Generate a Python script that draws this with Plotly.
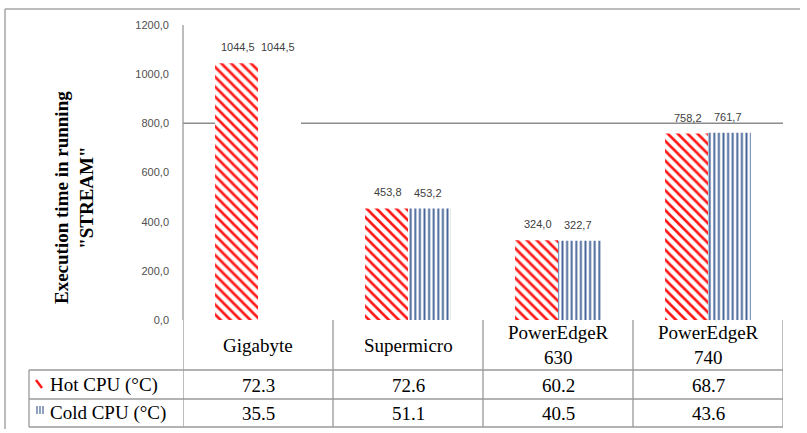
import plotly.graph_objects as go

# ---- data ----
categories = ["Gigabyte", "Supermicro", "PowerEdgeR<br>630", "PowerEdgeR<br>740"]
hot_time = [1044.5, 453.8, 324.0, 758.2]
cold_time = [1044.5, 453.2, 322.7, 761.7]
hot_temp = ["72.3", "72.6", "60.2", "68.7"]
cold_temp = ["35.5", "51.1", "40.5", "43.6"]
row_labels = ["Hot CPU (°C)", "Cold CPU (°C)"]
y_ticks = [0, 200, 400, 600, 800, 1000, 1200]

W, H = 807, 433
L, R, T, B = 183, 24, 25, 113
PW, PH = W - L - R, H - T - B

def px(x):  # pixel x -> paper
    return (x - L) / PW

def py(y):  # pixel y -> paper
    return (H - B - y) / PH

RED = "#ff1a1a"
BLUE = "#46659a"
GRID = "#8c8c8c"
BORDER = "#a6a6a6"
SERIF = "Liberation Serif"
SANS = "Liberation Sans"

xs = list(range(len(categories)))

fig = go.Figure()
fig.add_trace(go.Bar(
    x=xs, y=hot_time, name=row_labels[0],
    marker=dict(color="white", line=dict(width=0),
                pattern=dict(shape="\\", fgcolor=RED, bgcolor="white",
                             size=7, solidity=0.38, fillmode="replace")),
))
fig.add_trace(go.Bar(
    x=xs, y=cold_time, name=row_labels[1],
    marker=dict(color="white", line=dict(width=0),
                pattern=dict(shape=["", "|", "|", "|"], fgcolor=BLUE, bgcolor="white",
                             size=4.6, solidity=0.42, fillmode="replace")),
))

shapes = []
annotations = []

# horizontal line at 800 (behind bars)
shapes.append(dict(type="line", xref="paper", yref="y", x0=0, x1=1, y0=800, y1=800,
                   line=dict(color=GRID, width=1.5), layer="below"))

# value labels
for i in xs:
    for val, sh in ((hot_time[i], -20), (cold_time[i], 20)):
        annotations.append(dict(x=i, y=val, xref="x", yref="y", text=f"{val:.1f}".replace(".", ","),
                                showarrow=False, xshift=sh, yshift=8, yanchor="bottom",
                                font=dict(family=SANS, size=11, color="#404040")))

# outer border (left + top)
shapes.append(dict(type="line", xref="paper", yref="paper", x0=px(5), x1=px(5), y0=py(9), y1=py(429),
                   line=dict(color=BORDER, width=1.5)))
shapes.append(dict(type="line", xref="paper", yref="paper", x0=px(5), x1=px(800), y0=py(9), y1=py(9),
                   line=dict(color=BORDER, width=1.5)))

# table lines
TL = "#9a9a9a"
for yy in (370, 399, 427):
    shapes.append(dict(type="line", xref="paper", yref="paper", x0=px(29), x1=1.0, y0=py(yy), y1=py(yy),
                       line=dict(color=TL, width=1.3)))
shapes.append(dict(type="line", xref="paper", yref="paper", x0=px(29), x1=px(29), y0=py(370), y1=py(427),
                   line=dict(color=TL, width=1.3)))
for xb in [-0.5, 0.5, 1.5, 2.5, 3.5]:
    shapes.append(dict(type="line", xref="x", yref="paper", x0=xb, x1=xb, y0=py(320), y1=py(427),
                       line=dict(color=TL, width=1.3)))

TF = dict(family=SERIF, size=19, color="black")
# category names
for i, c in enumerate(categories):
    annotations.append(dict(x=i, y=py(345), xref="x", yref="paper", text=c, showarrow=False,
                            yanchor="middle", font=TF))
# temperature rows
for i in xs:
    annotations.append(dict(x=i, y=py(385), xref="x", yref="paper", text=hot_temp[i], showarrow=False,
                            yanchor="middle", font=TF))
    annotations.append(dict(x=i, y=py(413), xref="x", yref="paper", text=cold_temp[i], showarrow=False,
                            yanchor="middle", font=TF))
# row labels
annotations.append(dict(x=px(48), y=py(385), xref="paper", yref="paper", text=row_labels[0], showarrow=False,
                        xanchor="left", yanchor="middle", font=TF))
annotations.append(dict(x=px(48), y=py(413), xref="paper", yref="paper", text=row_labels[1], showarrow=False,
                        xanchor="left", yanchor="middle", font=TF))
# legend keys
shapes.append(dict(type="line", xref="paper", yref="paper", x0=px(36), x1=px(42), y0=py(380), y1=py(388),
                   line=dict(color=RED, width=2.5)))
for kx in (37, 40, 43):
    shapes.append(dict(type="line", xref="paper", yref="paper", x0=px(kx), x1=px(kx), y0=py(406), y1=py(414),
                       line=dict(color=BLUE, width=1.2)))

# y-axis title
annotations.append(dict(x=px(74), y=py(198), xref="paper", yref="paper",
                        text="Execution time in running<br>\"STREAM\"", showarrow=False, textangle=-90,
                        xanchor="center", yanchor="middle",
                        font=dict(family=SERIF, size=19, color="black", weight="bold")))

# y-axis line extended down through table header
shapes.append(dict(type="line", xref="paper", yref="paper", x0=0, x1=0, y0=py(320), y1=1,
                   line=dict(color=TL, width=1.3)))

fig.update_layout(
    width=W, height=H,
    margin=dict(l=L, r=R, t=T, b=B),
    paper_bgcolor="white", plot_bgcolor="white",
    barmode="group", bargap=0.427, bargroupgap=0,
    showlegend=False,
    separators=",.",
    shapes=shapes, annotations=annotations,
    xaxis=dict(range=[-0.5, 3.5], showticklabels=False, showgrid=False, zeroline=False,
               showline=False, ticks=""),
    yaxis=dict(range=[0, 1200], tickvals=y_ticks, tickformat=".1f", showgrid=False, zeroline=False,
               showline=False, ticks="", ticklabelstandoff=13,
               tickfont=dict(family=SANS, size=11, color="#505050")),
)

fig.write_html("out.html")
